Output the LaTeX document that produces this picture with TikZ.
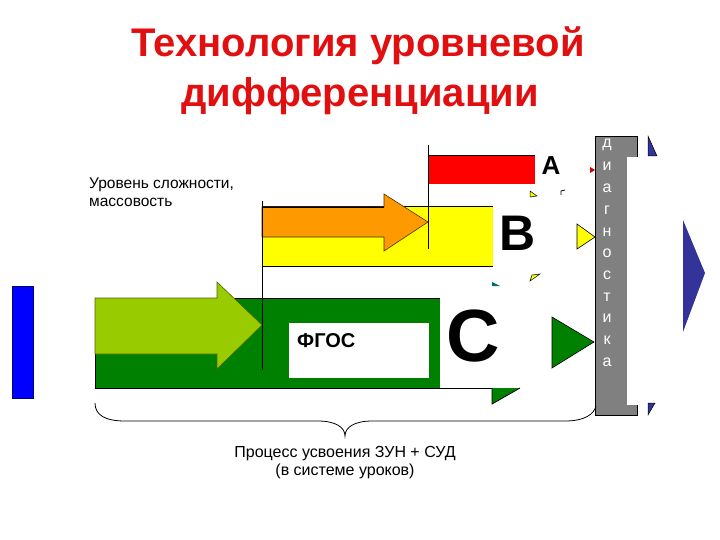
\documentclass[tikz,border=0pt]{standalone}
\usepackage{fontspec}
\setmainfont{Liberation Sans}
\definecolor{titlered}{RGB}{225,15,15}
\definecolor{dkgreen}{RGB}{0,128,0}
\definecolor{ltgreen}{RGB}{153,204,0}
\definecolor{olive}{RGB}{80,100,0}
\definecolor{myorange}{RGB}{255,153,0}
\definecolor{myyellow}{RGB}{255,255,0}
\definecolor{myred}{RGB}{255,0,0}
\definecolor{mygray}{RGB}{128,128,128}
\definecolor{navy}{RGB}{51,51,153}
\definecolor{teal2}{RGB}{0,110,110}
\tikzset{
  titletext/.style={font=\bfseries\fontsize{40}{44}\selectfont, text=titlered, anchor=base, inner sep=0pt},
  labeltext/.style={font=\fontsize{15.5}{18}\selectfont, anchor=base west, inner sep=0pt},
  bottomtext/.style={font=\fontsize{16}{19}\selectfont, anchor=base, inner sep=0pt},
  bigletter/.style={font=\bfseries, anchor=center, inner sep=0pt},
  diagletter/.style={font=\fontsize{16}{18}\selectfont, text=white, anchor=center, inner sep=0pt},
  thinline/.style={draw=black, line width=0.8pt},
}
\begin{document}
\begin{tikzpicture}[x=1pt,y=-1pt, line join=miter]
\useasboundingbox (0,0) rectangle (720,540);

% title
\node[titletext] (t1) at (358,57) {Технология уровневой};
\node[titletext] (t2) at (360,107) {дифференциации};

% left label
\node[labeltext] (l1) at (89,189) {Уровень сложности,};
\node[labeltext] (l2) at (89,207) {массовость};

% blue rect left
\draw[fill=blue, draw=blue!40!black, line width=0.6pt] (12,286) rectangle (33,398);

% ----- level C (green)
\fill[dkgreen] (95,298) rectangle (440,388);
\draw[thinline] (440,298) -- (95,298) -- (95,388) -- (492,388);
\fill[white] (289,323) rectangle (429,378);
\node[font=\bfseries\fontsize{20}{22}\selectfont, anchor=base west, inner sep=0pt] (fgos) at (297,347) {ФГОС};
% light green arrow
\draw[fill=ltgreen, draw=olive, line width=0.6pt]
  (95,298) -- (217,298) -- (217,282) -- (262,325) -- (217,369) -- (217,354) -- (95,354) -- cycle;
% green head fragment below
\fill[dkgreen] (492,388) -- (520,388) -- (492,404) -- cycle;
\draw[thinline] (492,388) -- (492,404) -- (520,388);

% ----- level B (yellow)
\fill[myyellow] (262,206) rectangle (493,266);
\draw[thinline] (493,206) -- (262,206);
\draw[thinline] (262,266) -- (493,266);
\draw[fill=myorange, draw=black!70!myorange, line width=0.6pt]
  (262,207) -- (384,207) -- (384,194) -- (428,222) -- (384,251) -- (384,237) -- (262,237) -- cycle;
\draw[thinline] (262,207) -- (384,207);
% vertical line of level B
\draw[thinline] (262,201) -- (262,370);

% ----- level A (red)
\fill[myred] (428,155) rectangle (535,184);
\draw[thinline] (428,155) -- (535,155);
\draw[thinline] (428,145) -- (428,249);

% letters
\node[bigletter, font=\bfseries\fontsize{26}{28}\selectfont] (la) at (551,166) {A};
\node[bigletter, font=\bfseries\fontsize{50}{52}\selectfont] (lb) at (518,233) {B};
\node[bigletter, font=\bfseries\fontsize{74}{76}\selectfont] (lc) at (473,336) {C};

% small fragments
\draw[fill=myyellow, draw=black, line width=0.5pt] (530,191) -- (537,196) -- (530,197) -- cycle;
\draw[black, line width=0.8pt] (561,195) -- (561,191) -- (565,190);
\draw[fill=myyellow, draw=black, line width=0.5pt] (530,281) -- (540,274) -- (532,275) -- cycle;
\fill[teal2] (492,282) -- (500,286) -- (492,286) -- cycle;
\fill[myred!80!black] (590,167) -- (595,170) -- (590,173) -- cycle;

% right triangles
\draw[fill=myyellow, draw=black, line width=0.6pt] (577,224) -- (595,237) -- (577,249) -- cycle;
\draw[fill=dkgreen, draw=black, line width=0.6pt] (552,317) -- (594,342) -- (552,368) -- cycle;

% gray diagnostic bar
\draw[fill=mygray, draw=black, line width=0.8pt] (595,136) rectangle (637,415);
\fill[white] (627,157) rectangle (640,405);
\foreach \ch [count=\i from 0] in {д,и,а,г,н,о,с,т,и,к,а} {
  \node[diagletter] (d\i) at (607,{145+21.7*\i}) {\ch};
}

% navy triangles
\draw[fill=navy, draw=black, line width=0.5pt] (648,136) -- (657,156) -- (648,156) -- cycle;
\draw[fill=navy, draw=black, line width=0.5pt] (648,403) -- (655,403) -- (648,415) -- cycle;
\fill[navy] (683,220) -- (705,273) -- (683,332) -- cycle;

% brace
\draw[black, line width=0.8pt]
  (95,403) .. controls (95,415) and (105,421) .. (125,421) -- (318,421)
  .. controls (335,421) and (345,427) .. (345,436)
  .. controls (345,427) and (355,421) .. (372,421) -- (565,421)
  .. controls (585,421) and (594,414) .. (596,406);

% bottom text
\node[bottomtext] (b1) at (345,457) {Процесс усвоения ЗУН + СУД};
\node[bottomtext] (b2) at (345,475) {(в системе уроков)};
\end{tikzpicture}
\end{document}
